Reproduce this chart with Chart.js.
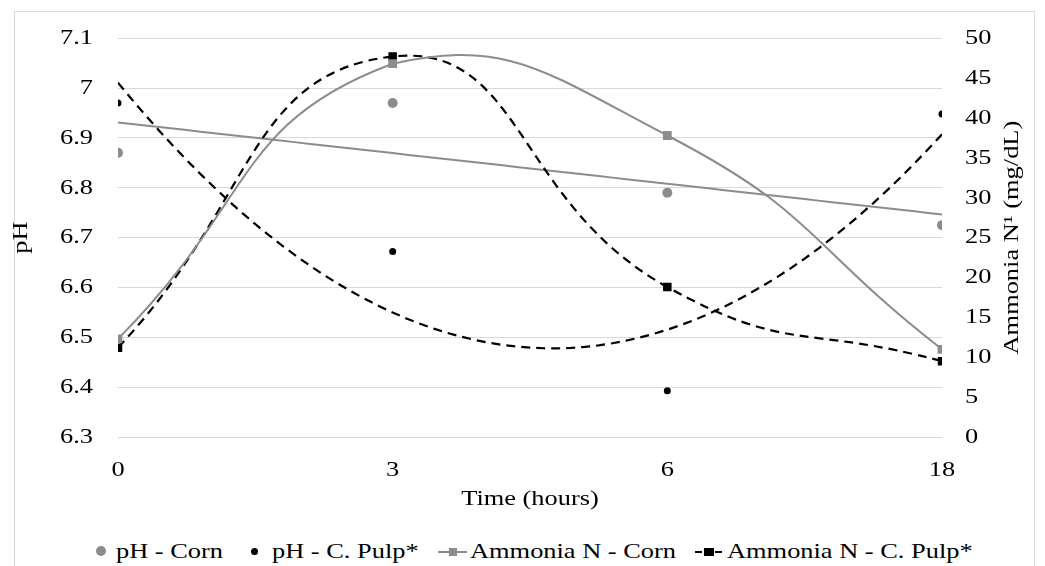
<!DOCTYPE html>
<html>
<head>
<meta charset="utf-8">
<title>pH and Ammonia N</title>
<script src="https://cdn.jsdelivr.net/npm/chart.js@4.4.1/dist/chart.umd.min.js"></script>
<style>
    body { margin: 0; background: #fff; }
    #wrap { position: relative; width: 1045px; height: 566px; overflow: hidden; font-family: 'Liberation Serif', 'Times New Roman', serif; }
    #frame { position: absolute; left: 14px; top: 11px; width: 1019px; height: 554px; border: 1px solid #d9d9d9; }
    #chart-box { position: absolute; left: 0; top: 0; width: 1045px; height: 520px; }
    .legend-item { position: absolute; top: 538px; height: 26px; line-height: 26px; font-size: 22px; color: #000; white-space: nowrap; }
    .legend-item .txt { position: absolute; transform: scaleX(1.2); transform-origin: left center; }
    .dot { position: absolute; border-radius: 50%; }
    .mk { position: absolute; top: 13px; height: 2px; }
    .mk i { position: absolute; top: -3px; width: 8px; height: 8px; }
</style>
</head>
<body>
<div id="wrap">
    <div id="frame"></div>
    <div id="chart-box"><canvas id="phChart" width="1045" height="520"></canvas></div>
    <div id="legend"></div>
</div>
<script>
// Donnees
const timeLabels = ['0', '3', '6', '18'];
const phCorn = [6.87, 6.97, 6.79, 6.725];
const phPulp = [6.97, 6.672, 6.393, 6.948];
const ammoniaCorn = [12.3, 46.8, 37.8, 11.0];
const ammoniaPulp = [11.2, 47.7, 18.8, 9.5];

const GRAY = '#8c8c8c';
const BLACK = '#000';
const SERIF = "'Liberation Serif', 'Times New Roman', serif";
const TEXT_STRETCH = 1.2; // le texte de l'original est plus large que Times

// Regression lineaire (courbe de tendance pH - Corn)
function linearFit(ys) {
    const n = ys.length;
    const xs = ys.map((_, i) => i);
    const mx = xs.reduce((s, v) => s + v, 0) / n;
    const my = ys.reduce((s, v) => s + v, 0) / n;
    let sxy = 0, sxx = 0;
    xs.forEach((x, i) => { sxy += (x - mx) * (ys[i] - my); sxx += (x - mx) * (x - mx); });
    const b = sxy / sxx;
    return x => my + b * (x - mx);
}

// Regression polynomiale ordre 2 (courbe de tendance pH - C. Pulp)
function quadFit(ys) {
    const xs = ys.map((_, i) => i);
    const S = k => xs.reduce((s, x) => s + Math.pow(x, k), 0);
    const T = k => xs.reduce((s, x, i) => s + Math.pow(x, k) * ys[i], 0);
    const m = [
        [S(0), S(1), S(2), T(0)],
        [S(1), S(2), S(3), T(1)],
        [S(2), S(3), S(4), T(2)]
    ];
    for (let c = 0; c < 3; c++) {
        for (let r = c + 1; r < 3; r++) {
            const f = m[r][c] / m[c][c];
            for (let k = c; k < 4; k++) m[r][k] -= f * m[c][k];
        }
    }
    const coef = [0, 0, 0];
    for (let r = 2; r >= 0; r--) {
        let s = m[r][3];
        for (let k = r + 1; k < 3; k++) s -= m[r][k] * coef[k];
        coef[r] = s / m[r][r];
    }
    return x => coef[0] + coef[1] * x + coef[2] * x * x;
}

function sampleFit(fn) {
    const pts = [];
    const last = timeLabels.length - 1;
    for (let i = 0; i <= 60; i++) {
        const x = last * i / 60;
        pts.push({ x: x, y: fn(x) });
    }
    return pts;
}

const toPoints = arr => arr.map((v, i) => ({ x: i, y: v }));

// Titre de l'axe de droite (lu de bas en haut comme dans Excel)
const rightTitle = {
    id: 'rightTitle',
    afterDraw(chart) {
        const { ctx, chartArea } = chart;
        ctx.save();
        ctx.translate(1012, (chartArea.top + chartArea.bottom) / 2);
        ctx.rotate(-Math.PI / 2);
        ctx.font = '22px ' + SERIF;
        ctx.fillStyle = BLACK;
        ctx.textAlign = 'center';
        ctx.textBaseline = 'middle';
        ctx.fillText('Ammonia N\u00b9 (mg/dL)', 0, 0);
        ctx.restore();
    }
};

Chart.defaults.font.family = SERIF;
Chart.defaults.color = BLACK;

const ctx = document.getElementById('phChart').getContext('2d');

// Texte etire horizontalement autour de son point d'ancrage
const baseFillText = ctx.fillText;
ctx.fillText = function (text, x, y) {
    this.save();
    this.translate(x, y);
    this.scale(TEXT_STRETCH, 1);
    baseFillText.call(this, text, 0, 0);
    this.restore();
};

new Chart(ctx, {
    type: 'line',
    data: {
        datasets: [
            {
                label: 'pH - Corn',
                data: toPoints(phCorn),
                yAxisID: 'y',
                showLine: false,
                pointStyle: 'circle',
                pointRadius: 5,
                pointBackgroundColor: GRAY,
                pointBorderWidth: 0
            },
            {
                label: 'pH - C. Pulp*',
                data: toPoints(phPulp),
                yAxisID: 'y',
                showLine: false,
                pointStyle: 'circle',
                pointRadius: 3.5,
                pointBackgroundColor: BLACK,
                pointBorderWidth: 0
            },
            {
                label: 'Ammonia N - Corn',
                data: toPoints(ammoniaCorn),
                yAxisID: 'y1',
                borderColor: GRAY,
                borderWidth: 2,
                tension: 0.5,
                pointStyle: 'rect',
                pointRadius: 6.2,
                pointBackgroundColor: GRAY,
                pointBorderWidth: 0
            },
            {
                label: 'Ammonia N - C. Pulp*',
                data: toPoints(ammoniaPulp),
                yAxisID: 'y1',
                borderColor: BLACK,
                borderWidth: 2.2,
                borderDash: [9, 6],
                tension: 0.5,
                pointStyle: 'rect',
                pointRadius: 6,
                pointBackgroundColor: BLACK,
                pointBorderWidth: 0
            },
            {
                label: 'Linear (pH - Corn)',
                data: sampleFit(linearFit(phCorn)),
                yAxisID: 'y',
                borderColor: GRAY,
                borderWidth: 2,
                pointRadius: 0
            },
            {
                label: 'Poly. (pH - C. Pulp*)',
                data: sampleFit(quadFit(phPulp)),
                yAxisID: 'y',
                borderColor: BLACK,
                borderWidth: 2.2,
                borderDash: [9, 6],
                pointRadius: 0
            }
        ]
    },
    options: {
        responsive: false,
        animation: false,
        layout: { padding: { left: 10, right: 11, top: 31, bottom: 0 } },
        plugins: {
            legend: { display: false },
            tooltip: { enabled: false }
        },
        scales: {
            x: {
                type: 'linear',
                min: 0,
                max: timeLabels.length - 1,
                grid: { display: false },
                border: { display: false },
                ticks: {
                    stepSize: 1,
                    padding: 12,
                    font: { family: SERIF, size: 22 },
                    callback: v => timeLabels[v]
                },
                title: {
                    display: true,
                    text: 'Time (hours)',
                    font: { family: SERIF, size: 22, lineHeight: 1.2 },
                    padding: { top: 0, bottom: 8 }
                },
                afterFit: s => { s.height = 83; }
            },
            y: {
                position: 'left',
                min: 6.3,
                max: 7.1,
                grid: { color: '#d9d9d9', drawTicks: false },
                border: { display: false },
                ticks: {
                    stepSize: 0.1,
                    padding: 25,
                    font: { family: SERIF, size: 22 },
                    callback: v => String(Math.round(v * 10) / 10)
                },
                title: {
                    display: true,
                    text: 'pH',
                    font: { family: SERIF, size: 22, lineHeight: 1 },
                    padding: 0
                },
                afterFit: s => { s.width = 108; }
            },
            y1: {
                position: 'right',
                min: 0,
                max: 50,
                grid: { display: false, drawTicks: false },
                border: { display: false },
                ticks: {
                    stepSize: 5,
                    padding: 23,
                    font: { family: SERIF, size: 22 }
                },
                afterFit: s => { s.width = 92; }
            }
        }
    },
    plugins: [rightTitle]
});

// Legende HTML
const legendItems = [
    { text: 'pH - Corn', left: 96, marker: `<span class="dot" style="left:0;top:8px;width:10px;height:10px;background:${GRAY}"></span>`, textLeft: 20 },
    { text: 'pH - C. Pulp*', left: 250, marker: `<span class="dot" style="left:1px;top:10px;width:7px;height:7px;background:${BLACK}"></span>`, textLeft: 22 },
    { text: 'Ammonia N - Corn', left: 438, marker: `<span class="mk" style="left:0;width:29px;background:${GRAY}"><i style="left:11px;background:${GRAY}"></i></span>`, textLeft: 32 },
    { text: 'Ammonia N - C. Pulp*', left: 695, marker: `<span class="mk" style="left:0;width:27px;background:linear-gradient(90deg,${BLACK} 0 7px,transparent 7px 9px,${BLACK} 9px 18px,transparent 18px 20px,${BLACK} 20px 27px)"><i style="left:9px;width:10px;background:${BLACK}"></i></span>`, textLeft: 32 }
];

document.getElementById('legend').innerHTML = legendItems.map(item => `
    <div class="legend-item" style="left:${item.left}px">
        ${item.marker}<span class="txt" style="left:${item.textLeft}px">${item.text}</span>
    </div>
`).join('');
</script>
</body>
</html>
